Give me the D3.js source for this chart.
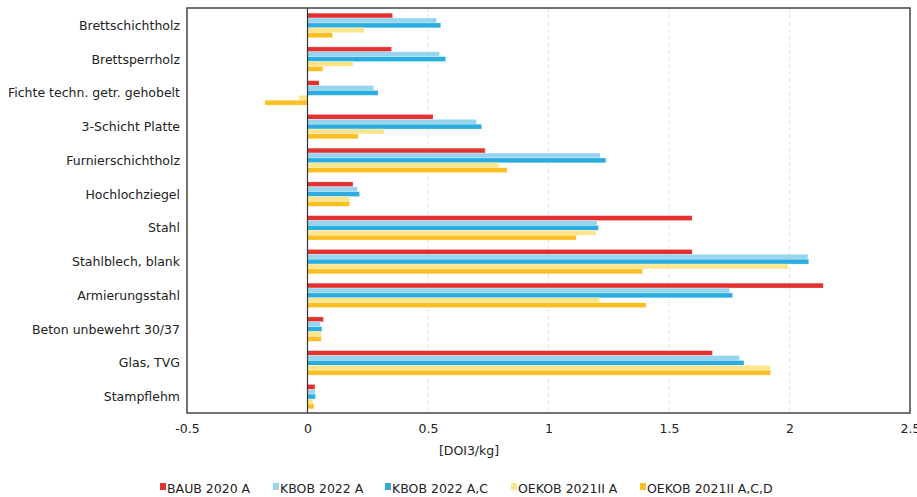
<!DOCTYPE html>
<html>
<head>
<meta charset="utf-8">
<script src="https://cdn.jsdelivr.net/npm/d3@7"></script>
<style>
  html, body { margin: 0; padding: 0; background: #fff; }
  svg { display: block; font-family: "DejaVu Sans", sans-serif; }
</style>
</head>
<body>
<svg id="chart" width="917" height="497"></svg>
<script>
// Materials (top to bottom)
const categories = [
  "Brettschichtholz", "Brettsperrholz", "Fichte techn. getr. gehobelt",
  "3-Schicht Platte", "Furnierschichtholz", "Hochlochziegel", "Stahl",
  "Stahlblech, blank", "Armierungsstahl", "Beton unbewehrt 30/37",
  "Glas, TVG", "Stampflehm"
];

// Series names
const seriesNames = ["BAUB 2020 A", "KBOB 2022 A", "KBOB 2022 A,C", "OEKOB 2021II A", "OEKOB 2021II A,C,D"];

// Values per series, in category order [DOI3/kg]
const baub2020A      = [0.353, 0.349, 0.048, 0.521, 0.737, 0.189, 1.596, 1.596, 2.140, 0.066, 1.680, 0.031];
const kbob2022A      = [0.535, 0.548, 0.275, 0.701, 1.214, 0.207, 1.201, 2.076, 1.752, 0.053, 1.793, 0.031];
const kbob2022AC     = [0.553, 0.573, 0.293, 0.723, 1.238, 0.216, 1.207, 2.080, 1.764, 0.060, 1.811, 0.033];
const oekob2021A     = [0.236, 0.189, -0.036, 0.317, 0.795, 0.175, 1.197, 1.994, 1.212, 0.057, 1.920, 0.023];
const oekob2021ACD   = [0.104, 0.064, -0.177, 0.210, 0.828, 0.175, 1.115, 1.390, 1.405, 0.057, 1.922, 0.027];

const seriesValues = [baub2020A, kbob2022A, kbob2022AC, oekob2021A, oekob2021ACD];
const seriesColors = ["#e3312f", "#97d4f0", "#2badE0", "#fde58c", "#fcbf23"];

// Axis ticks
const xTicks = [-0.5, 0, 0.5, 1, 1.5, 2, 2.5];
const xTickLabels = ["-0.5", "0", "0.5", "1", "1.5", "2", "2.5"];
const xTitle = "[DOI3/kg]";

const svg = d3.select("#chart");
const plot = { left: 187, right: 910, top: 8, bottom: 413 };

const x = d3.scaleLinear().domain([-0.5, 2.5]).range([plot.left, plot.right]);
const y0 = d3.scaleBand().domain(categories).range([plot.top, plot.bottom]).padding(0);
const y1 = d3.scaleBand().domain(seriesNames).range([0, y0.bandwidth()])
  .paddingInner(0).paddingOuter(0.95);

// Dashed vertical gridlines
svg.append("g")
  .selectAll("line")
  .data(xTicks.filter(t => t > 0 && t < 2.5))
  .join("line")
  .attr("x1", d => x(d)).attr("x2", d => x(d))
  .attr("y1", plot.top).attr("y2", plot.bottom)
  .attr("stroke", "#e2e2e2")
  .attr("stroke-width", 1)
  .attr("stroke-dasharray", "4,3");

// Bars
const rows = [];
categories.forEach((c, i) => {
  seriesNames.forEach((s, j) => rows.push({ cat: c, series: s, value: seriesValues[j][i], color: seriesColors[j] }));
});

svg.append("g")
  .selectAll("rect")
  .data(rows)
  .join("rect")
  .attr("x", d => x(Math.min(0, d.value)))
  .attr("width", d => Math.abs(x(d.value) - x(0)))
  .attr("y", d => y0(d.cat) + y1(d.series) + 0.5)
  .attr("height", y1.bandwidth())
  .attr("fill", d => d.color)
  .attr("stroke", "rgba(255,255,255,0.45)")
  .attr("stroke-width", 0.6);

// Zero line
svg.append("line")
  .attr("x1", x(0)).attr("x2", x(0))
  .attr("y1", plot.top).attr("y2", plot.bottom)
  .attr("stroke", "#333").attr("stroke-width", 1.2);

// Plot frame
svg.append("rect")
  .attr("x", plot.left).attr("y", plot.top)
  .attr("width", plot.right - plot.left).attr("height", plot.bottom - plot.top)
  .attr("fill", "none").attr("stroke", "#444").attr("stroke-width", 1.5);

// Category axis
const yAxis = svg.append("g")
  .attr("transform", `translate(${plot.left},1)`)
  .call(d3.axisLeft(y0).tickSize(0).tickPadding(7));
yAxis.select(".domain").remove();
yAxis.selectAll("text").attr("font-size", 12.5).attr("fill", "#222")
  .attr("font-family", "DejaVu Sans, sans-serif");

// Value axis
const xAxis = svg.append("g")
  .attr("transform", `translate(0,${plot.bottom})`)
  .call(d3.axisBottom(x).tickValues(xTicks).tickFormat((d, i) => xTickLabels[i]).tickSize(0).tickPadding(11));
xAxis.select(".domain").remove();
xAxis.selectAll("text").attr("font-size", 12.5).attr("fill", "#222")
  .attr("font-family", "DejaVu Sans, sans-serif");

// Axis title
svg.append("text")
  .attr("x", 469).attr("y", 455)
  .attr("text-anchor", "middle")
  .attr("font-size", 12.5).attr("fill", "#222")
  .text(xTitle);

// Legend
const legendX = [160, 273, 385, 511, 640];
const legend = svg.append("g")
  .selectAll("g")
  .data(seriesNames)
  .join("g")
  .attr("transform", (d, i) => `translate(${legendX[i]},488)`);
legend.append("rect")
  .attr("x", 0).attr("y", -5).attr("width", 6).attr("height", 7)
  .attr("fill", (d, i) => seriesColors[i]);
legend.append("text")
  .attr("x", 7).attr("y", 4.5)
  .attr("font-size", 12.5).attr("fill", "#222")
  .text(d => d);
</script>
</body>
</html>
